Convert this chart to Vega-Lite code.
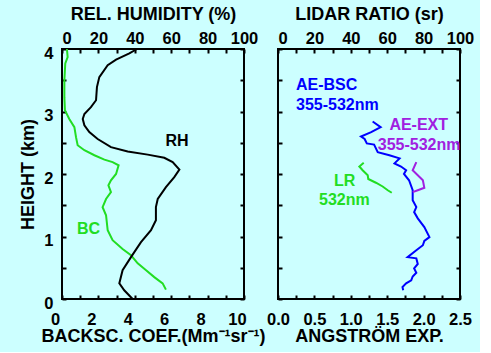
{
  "$schema": "https://vega.github.io/schema/vega-lite/v6.json",
  "background": "#ccffff",
  "padding": {"left": 18, "top": 4, "right": 5, "bottom": 5},
  "config": {
    "view": {"stroke": "black", "strokeWidth": 2},
    "font": "Liberation Sans",
    "axis": {
      "labelFont": "Liberation Sans", "labelFontWeight": "bold", "labelFontSize": 16.5, "labelColor": "black",
      "titleFont": "Liberation Sans", "titleFontWeight": "bold", "titleFontSize": 18, "titleColor": "black",
      "tickColor": "black", "tickWidth": 2, "tickSize": -4, "domain": false, "grid": false, "labelFlush": false
    },
    "text": {"font": "Liberation Sans", "fontWeight": "bold", "fontSize": 16}
  },
  "datasets": {
    "rh": [
      {"h": 4.0, "rh": 41.2}, {"h": 3.93, "rh": 37}, {"h": 3.83, "rh": 29.7}, {"h": 3.74, "rh": 25.1},
      {"h": 3.55, "rh": 20.5}, {"h": 3.39, "rh": 19.2}, {"h": 3.18, "rh": 18.7}, {"h": 3.07, "rh": 15.9},
      {"h": 2.96, "rh": 12.3}, {"h": 2.88, "rh": 11.4}, {"h": 2.78, "rh": 12.3}, {"h": 2.67, "rh": 15.0},
      {"h": 2.56, "rh": 19.6}, {"h": 2.43, "rh": 26.9}, {"h": 2.36, "rh": 36.1}, {"h": 2.31, "rh": 47.1},
      {"h": 2.26, "rh": 56.2}, {"h": 2.19, "rh": 60.8}, {"h": 2.07, "rh": 64.5}, {"h": 1.95, "rh": 61.7},
      {"h": 1.79, "rh": 57.1}, {"h": 1.60, "rh": 52.6}, {"h": 1.47, "rh": 51.6}, {"h": 1.26, "rh": 51.6},
      {"h": 1.10, "rh": 48.9}, {"h": 0.91, "rh": 43.4}, {"h": 0.67, "rh": 37.9}, {"h": 0.46, "rh": 33.3},
      {"h": 0.25, "rh": 31.5}, {"h": 0.14, "rh": 34.2}, {"h": 0.0, "rh": 38.8}
    ],
    "bc": [
      {"h": 4.0, "bc": 0.27}, {"h": 3.87, "bc": 0.31}, {"h": 3.77, "bc": 0.18}, {"h": 3.50, "bc": 0.13},
      {"h": 3.23, "bc": 0.13}, {"h": 3.02, "bc": 0.16}, {"h": 2.88, "bc": 0.40}, {"h": 2.75, "bc": 0.68},
      {"h": 2.59, "bc": 0.77}, {"h": 2.46, "bc": 0.86}, {"h": 2.38, "bc": 1.23}, {"h": 2.30, "bc": 1.78},
      {"h": 2.23, "bc": 2.33}, {"h": 2.19, "bc": 2.78}, {"h": 2.14, "bc": 3.11}, {"h": 2.00, "bc": 2.97},
      {"h": 1.90, "bc": 2.69}, {"h": 1.82, "bc": 2.55}, {"h": 1.71, "bc": 2.69}, {"h": 1.60, "bc": 2.42},
      {"h": 1.47, "bc": 2.23}, {"h": 1.34, "bc": 2.42}, {"h": 1.10, "bc": 2.51}, {"h": 0.94, "bc": 2.78},
      {"h": 0.80, "bc": 3.33}, {"h": 0.70, "bc": 3.79}, {"h": 0.57, "bc": 4.16}, {"h": 0.46, "bc": 4.62},
      {"h": 0.35, "bc": 5.07}, {"h": 0.25, "bc": 5.53}, {"h": 0.15, "bc": 5.71}
    ],
    "bsc": [
      {"h": 2.84, "ae": 1.30}, {"h": 2.75, "ae": 1.41}, {"h": 2.67, "ae": 1.28}, {"h": 2.60, "ae": 1.14},
      {"h": 2.56, "ae": 1.19}, {"h": 2.49, "ae": 1.22}, {"h": 2.47, "ae": 1.32}, {"h": 2.35, "ae": 1.37},
      {"h": 2.30, "ae": 1.53}, {"h": 2.25, "ae": 1.67}, {"h": 2.17, "ae": 1.60}, {"h": 2.12, "ae": 1.69},
      {"h": 2.06, "ae": 1.76}, {"h": 2.00, "ae": 1.73}, {"h": 1.90, "ae": 1.80}, {"h": 1.74, "ae": 1.85},
      {"h": 1.58, "ae": 1.85}, {"h": 1.47, "ae": 1.90}, {"h": 1.39, "ae": 1.87}, {"h": 1.29, "ae": 1.92},
      {"h": 1.15, "ae": 2.01}, {"h": 0.99, "ae": 2.08}, {"h": 0.93, "ae": 2.01}, {"h": 0.86, "ae": 1.99},
      {"h": 0.78, "ae": 1.90}, {"h": 0.67, "ae": 1.78}, {"h": 0.65, "ae": 1.90}, {"h": 0.56, "ae": 1.92},
      {"h": 0.49, "ae": 1.87}, {"h": 0.42, "ae": 1.90}, {"h": 0.36, "ae": 1.85}, {"h": 0.30, "ae": 1.83},
      {"h": 0.25, "ae": 1.76}, {"h": 0.19, "ae": 1.71}, {"h": 0.14, "ae": 1.72}
    ],
    "ext": [
      {"h": 2.19, "ae": 1.90}, {"h": 2.06, "ae": 1.85}, {"h": 1.98, "ae": 1.92}, {"h": 1.90, "ae": 1.99},
      {"h": 1.78, "ae": 2.01}, {"h": 1.74, "ae": 1.92}, {"h": 1.71, "ae": 1.85}
    ],
    "lr": [
      {"h": 2.18, "lr": 47.1}, {"h": 2.12, "lr": 44.7}, {"h": 2.06, "lr": 46.5}, {"h": 1.98, "lr": 49.3},
      {"h": 1.92, "lr": 49.6}, {"h": 1.86, "lr": 53.8}, {"h": 1.80, "lr": 57.5}, {"h": 1.74, "lr": 60.3},
      {"h": 1.70, "lr": 62.5}
    ],
    "labelsLeft": [
      {"x": 6.32, "h": 2.53, "label": "RH", "series": "RH"},
      {"x": 1.46, "h": 1.12, "label": "BC", "series": "BC"}
    ],
    "labelsRight": [
      {"x": 0.247, "h": 3.42, "label": "AE-BSC", "series": "BSC"},
      {"x": 0.247, "h": 3.10, "label": "355-532nm", "series": "BSC"},
      {"x": 1.53, "h": 2.78, "label": "AE-EXT", "series": "EXT"},
      {"x": 1.37, "h": 2.46, "label": "355-532nm", "series": "EXT"},
      {"x": 0.77, "h": 1.89, "label": "LR", "series": "LR"},
      {"x": 0.563, "h": 1.58, "label": "532nm", "series": "LR"}
    ]
  },
  "spacing": 34,
  "bounds": "flush",
  "hconcat": [
    {
      "width": 182, "height": 250,
      "resolve": {"scale": {"x": "independent", "y": "independent"}},
      "layer": [
        {
          "data": {"name": "bc"},
          "mark": {"type": "line", "color": "#22dd22", "strokeWidth": 2},
          "encoding": {
            "x": {"field": "bc", "type": "quantitative", "scale": {"domain": [0, 10], "nice": false},
              "axis": {"orient": "bottom", "title": "BACKSC. COEF.(Mm⁻¹sr⁻¹)", "values": [0,1,2,3,4,5,6,7,8,9,10],
                "labelExpr": "datum.value % 2 == 0 ? datum.label : ''", "labelPadding": 16, "labelOffset": -7, "titlePadding": 0}},
            "y": {"field": "h", "type": "quantitative", "scale": {"domain": [0, 4], "nice": false},
              "axis": {"orient": "left", "title": "HEIGHT (km)", "values": [0,0.5,1,1.5,2,2.5,3,3.5,4],
                "labelExpr": "datum.value % 1 == 0 ? format(datum.value, 'd') : ''", "labelPadding": 13, "labelOffset": 4, "titlePadding": 6}},
            "order": {"field": "h", "type": "quantitative", "sort": "descending"}
          }
        },
        {
          "data": {"name": "rh"},
          "mark": {"type": "line", "color": "black", "strokeWidth": 2},
          "encoding": {
            "x": {"field": "rh", "type": "quantitative", "scale": {"domain": [0, 100], "nice": false},
              "axis": {"orient": "top", "title": "REL. HUMIDITY (%)", "values": [0,10,20,30,40,50,60,70,80,90,100],
                "labelExpr": "datum.value % 20 == 0 ? datum.label : ''", "labelPadding": 7, "titlePadding": 7,
                "labelAlign": {"condition": {"test": "datum.value == 0", "value": "left"}, "value": "center"}}},
            "y": {"field": "h", "type": "quantitative", "scale": {"domain": [0, 4], "nice": false},
              "axis": {"orient": "right", "title": null, "labels": false, "values": [0,0.5,1,1.5,2,2.5,3,3.5,4]}},
            "order": {"field": "h", "type": "quantitative", "sort": "descending"}
          }
        },
        {
          "data": {"name": "labelsLeft"},
          "mark": {"type": "text", "align": "center", "baseline": "middle"},
          "encoding": {
            "x": {"field": "x", "type": "quantitative", "scale": {"domain": [0, 10], "nice": false}, "axis": null},
            "y": {"field": "h", "type": "quantitative", "scale": {"domain": [0, 4], "nice": false}, "axis": null},
            "text": {"field": "label"},
            "color": {"field": "series", "type": "nominal", "scale": {"domain": ["RH", "BC", "BSC", "EXT", "LR"], "range": ["black", "#22dd22", "#0000ff", "#a020e0", "#22dd22"]}, "legend": null}
          }
        }
      ]
    },
    {
      "width": 182, "height": 250,
      "resolve": {"scale": {"x": "independent", "y": "independent"}},
      "layer": [
        {
          "data": {"name": "bsc"},
          "mark": {"type": "line", "color": "#0000ff", "strokeWidth": 2},
          "encoding": {
            "x": {"field": "ae", "type": "quantitative", "scale": {"domain": [0, 2.5], "nice": false},
              "axis": {"orient": "bottom", "title": "ANGSTRÖM EXP.", "values": [0,0.25,0.5,0.75,1,1.25,1.5,1.75,2,2.25,2.5],
                "labelExpr": "(datum.value * 2) % 1 == 0 ? format(datum.value, '.1f') : ''", "labelPadding": 16, "titlePadding": 0}},
            "y": {"field": "h", "type": "quantitative", "scale": {"domain": [0, 4], "nice": false},
              "axis": {"orient": "left", "title": null, "labels": false, "values": [0,0.5,1,1.5,2,2.5,3,3.5,4]}},
            "order": {"field": "h", "type": "quantitative", "sort": "descending"}
          }
        },
        {
          "data": {"name": "ext"},
          "mark": {"type": "line", "color": "#a020e0", "strokeWidth": 2},
          "encoding": {
            "x": {"field": "ae", "type": "quantitative", "scale": {"domain": [0, 2.5], "nice": false}, "axis": null},
            "y": {"field": "h", "type": "quantitative", "scale": {"domain": [0, 4], "nice": false}, "axis": null},
            "order": {"field": "h", "type": "quantitative", "sort": "descending"}
          }
        },
        {
          "data": {"name": "lr"},
          "mark": {"type": "line", "color": "#22dd22", "strokeWidth": 2},
          "encoding": {
            "x": {"field": "lr", "type": "quantitative", "scale": {"domain": [0, 100], "nice": false},
              "axis": {"orient": "top", "title": "LIDAR RATIO (sr)", "values": [0,10,20,30,40,50,60,70,80,90,100],
                "labelExpr": "datum.value % 20 == 0 ? datum.label : ''", "labelPadding": 7, "titlePadding": 7,
                "labelAlign": {"condition": {"test": "datum.value == 0", "value": "left"}, "value": "center"}}},
            "y": {"field": "h", "type": "quantitative", "scale": {"domain": [0, 4], "nice": false},
              "axis": {"orient": "right", "title": null, "labels": false, "values": [0,0.5,1,1.5,2,2.5,3,3.5,4]}},
            "order": {"field": "h", "type": "quantitative", "sort": "descending"}
          }
        },
        {
          "data": {"name": "labelsRight"},
          "mark": {"type": "text", "align": "left", "baseline": "middle"},
          "encoding": {
            "x": {"field": "x", "type": "quantitative", "scale": {"domain": [0, 2.5], "nice": false}, "axis": null},
            "y": {"field": "h", "type": "quantitative", "scale": {"domain": [0, 4], "nice": false}, "axis": null},
            "text": {"field": "label"},
            "color": {"field": "series", "type": "nominal", "scale": {"domain": ["RH", "BC", "BSC", "EXT", "LR"], "range": ["black", "#22dd22", "#0000ff", "#a020e0", "#22dd22"]}, "legend": null}
          }
        }
      ]
    }
  ]
}
